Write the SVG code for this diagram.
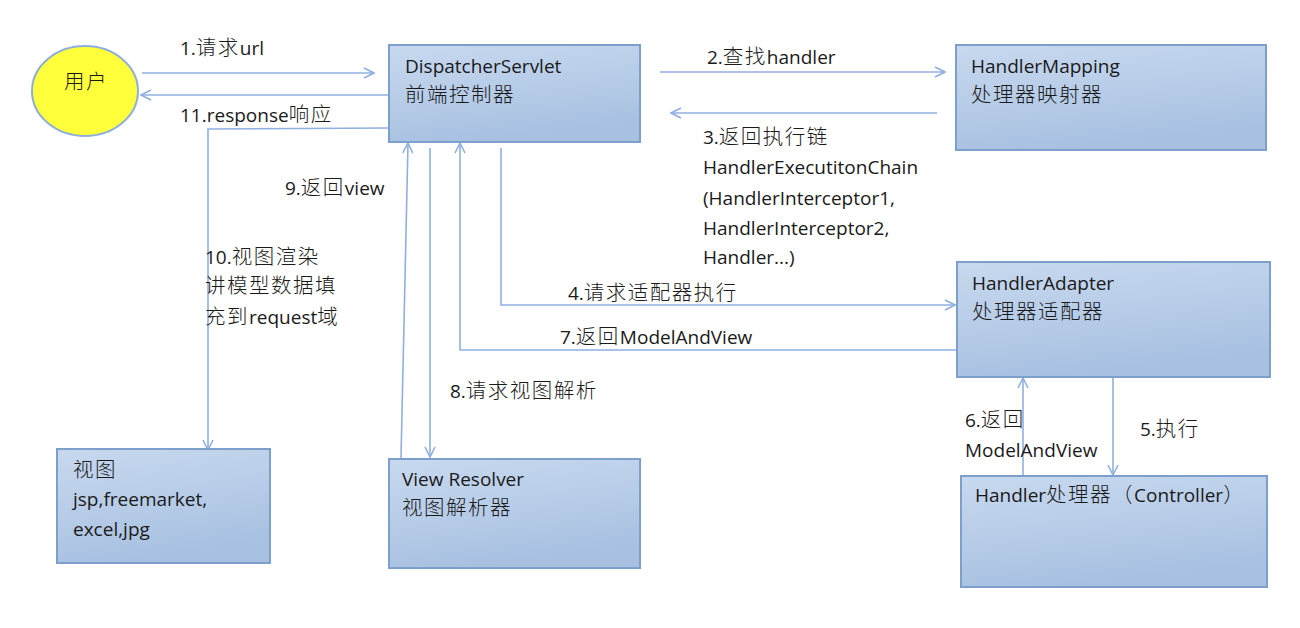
<svg xmlns="http://www.w3.org/2000/svg" width="1300" height="628" viewBox="0 0 1300 628">
<style>
text{font-family:"Open Sans","Noto Sans CJK SC",sans-serif;font-size:19px;fill:#1a1a1a}
.k{font-family:"Noto Sans CJK SC",sans-serif;font-size:20.5px;letter-spacing:1.5px;font-weight:300}
.box{fill:url(#g);stroke:#7d9fcc;stroke-width:2}
.c{fill:none;stroke:#8fb0df;stroke-width:1.6}
</style>
<defs>
<linearGradient id="g" x1="0" y1="0" x2="0.3" y2="1">
<stop offset="0" stop-color="#c8d9ef"/>
<stop offset="1" stop-color="#a8c1e1"/>
</linearGradient>
<marker id="a" viewBox="0 0 12 12" refX="11" refY="6" markerWidth="12" markerHeight="12" markerUnits="userSpaceOnUse" orient="auto">
<path d="M1,1 L11,6 L1,11" fill="none" stroke="#8fb0df" stroke-width="1.6"/>
</marker>
</defs>
<rect width="1300" height="628" fill="#fff"/>
<g id="connectors">
<line class="c" x1="142" y1="73" x2="374" y2="73" marker-end="url(#a)"/>
<line class="c" x1="389" y1="95" x2="141" y2="95" marker-end="url(#a)"/>
<polyline class="c" points="389,128 208,129 208,450" marker-end="url(#a)"/>
<line class="c" x1="660" y1="72" x2="945" y2="72" marker-end="url(#a)"/>
<line class="c" x1="937" y1="113" x2="671" y2="113" marker-end="url(#a)"/>
<polyline class="c" points="501,148 501,305 955,305" marker-end="url(#a)"/>
<polyline class="c" points="957,350 460,350 460,143" marker-end="url(#a)"/>
<line class="c" x1="430" y1="148" x2="430" y2="457" marker-end="url(#a)"/>
<line class="c" x1="401" y1="458" x2="408" y2="143" marker-end="url(#a)"/>
<line class="c" x1="1113" y1="378" x2="1113" y2="475" marker-end="url(#a)"/>
<line class="c" x1="1023" y1="475" x2="1023" y2="378" marker-end="url(#a)"/>
</g>
<g id="labels">
<text x="180" y="55">1.<tspan class="k">请求</tspan>url</text>
<text x="180" y="122">11.response<tspan class="k">响应</tspan></text>
<text x="707" y="64">2.<tspan class="k">查找</tspan>handler</text>
<text x="703" y="144">3.<tspan class="k">返回执行链</tspan></text>
<text x="703" y="174">HandlerExecutitonChain</text>
<text x="703" y="205">(HandlerInterceptor1,</text>
<text x="703" y="235">HandlerInterceptor2,</text>
<text x="703" y="264">Handler...)</text>
<text x="568" y="300">4.<tspan class="k">请求适配器执行</tspan></text>
<text x="560" y="344">7.<tspan class="k">返回</tspan>ModelAndView</text>
<text x="450" y="398">8.<tspan class="k">请求视图解析</tspan></text>
<text x="285" y="195">9.<tspan class="k">返回</tspan>view</text>
<text x="205" y="264">10.<tspan class="k">视图渲染</tspan></text>
<text x="205" y="293" class="k">讲模型数据填</text>
<text x="205" y="324"><tspan class="k">充到</tspan>request<tspan class="k">域</tspan></text>
<text x="1140" y="436">5.<tspan class="k">执行</tspan></text>
<text x="965" y="427">6.<tspan class="k">返回</tspan></text>
<text x="965" y="457">ModelAndView</text>
</g>
<g id="user">
<ellipse cx="85" cy="91" rx="53" ry="45" fill="#ffff3c" stroke="#8eaedb" stroke-width="2"/>
<text x="64" y="89" class="k">用户</text>
</g>
<g id="dispatcher">
<rect class="box" x="389" y="45" width="251" height="97"/>
<text x="405" y="73">DispatcherServlet</text>
<text x="405" y="102" class="k">前端控制器</text>
</g>
<g id="handlerMapping">
<rect class="box" x="956" y="45" width="310" height="105"/>
<text x="971" y="73">HandlerMapping</text>
<text x="971" y="102" class="k">处理器映射器</text>
</g>
<g id="handlerAdapter">
<rect class="box" x="957" y="262" width="313" height="115"/>
<text x="972" y="290">HandlerAdapter</text>
<text x="972" y="319" class="k">处理器适配器</text>
</g>
<g id="handler">
<rect class="box" x="961" y="476" width="306" height="111"/>
<text x="975" y="502">Handler<tspan class="k">处理器（</tspan>Controller<tspan class="k">）</tspan></text>
</g>
<g id="view">
<rect class="box" x="57" y="449" width="213" height="114"/>
<text x="73" y="477" class="k">视图</text>
<text x="73" y="506">jsp,freemarket,</text>
<text x="73" y="536">excel,jpg</text>
</g>
<g id="viewResolver">
<rect class="box" x="389" y="459" width="251" height="109"/>
<text x="402" y="486">View Resolver</text>
<text x="402" y="515" class="k">视图解析器</text>
</g>
</svg>
